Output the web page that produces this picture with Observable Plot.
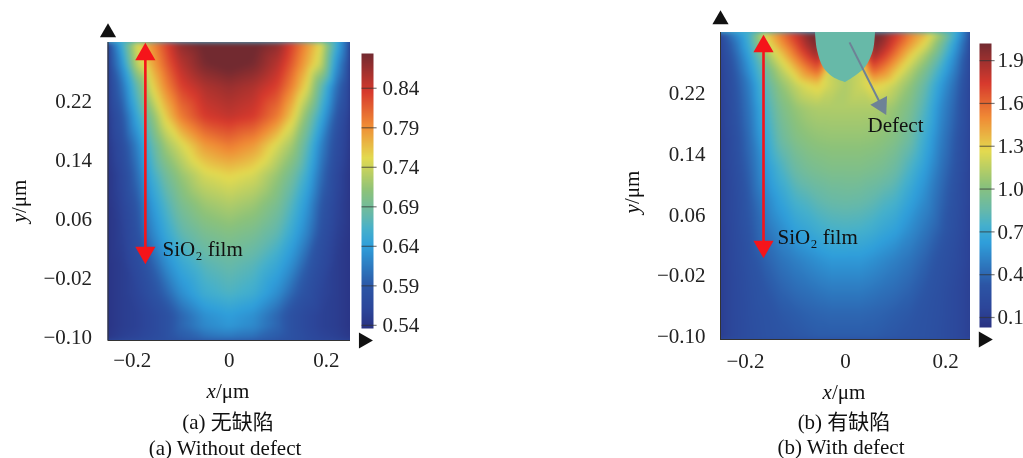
<!DOCTYPE html>
<html><head><meta charset="utf-8">
<script src="https://cdn.jsdelivr.net/npm/d3@7"></script>
<script src="https://cdn.jsdelivr.net/npm/@observablehq/plot@0.6"></script>
<style>
html,body{margin:0;padding:0;background:#fff}
#page{position:relative;width:1023px;height:458px;overflow:hidden;font-family:"Liberation Serif",serif;color:#111;filter:blur(.3px)}
#page svg{position:absolute;overflow:visible;background:transparent}
svg.heat image{filter:blur(2.5px)}
.t{position:absolute;white-space:nowrap;transform:translate(-50%,-50%);font-size:21px;line-height:1}
.r{transform:translate(-50%,-50%) rotate(-90deg)}
.cjk{font-family:"Liberation Serif","Noto Sans CJK SC",serif}
i{font-style:italic}
</style></head><body><div id="page"></div>
<script>
const xTicks=[-0.2,0,0.2];
const yTicks=[-0.10,-0.02,0.06,0.14,0.22];
const yDomain=[-0.104,0.30];
const xDomain=[-0.25,0.25];

// Panel (a) field
const xsA=[-.25,-.22,-.19,-.16,-.13,-.10,-.05,0,.05,.10,.13,.16,.19,.22,.25];
const ysA=[.30,.27,.24,.20,.16,.12,.08,.04,0,-.04,-.07,-.085,-.104];
const fieldA=[
[.58,.66,.75,.79,.83,.87,.89,.90,.89,.87,.83,.79,.75,.66,.58],
[.57,.635,.735,.775,.815,.85,.88,.89,.88,.85,.815,.775,.735,.635,.57],
[.56,.61,.68,.75,.795,.83,.855,.865,.855,.83,.795,.75,.68,.61,.56],
[.55,.59,.65,.705,.76,.80,.835,.845,.835,.80,.76,.705,.65,.59,.55],
[.545,.575,.62,.675,.72,.745,.785,.80,.785,.745,.72,.675,.62,.575,.545],
[.54,.565,.605,.655,.69,.715,.745,.755,.745,.715,.69,.655,.605,.565,.54],
[.54,.56,.59,.635,.668,.695,.718,.727,.718,.695,.668,.635,.59,.56,.54],
[.54,.555,.58,.62,.65,.675,.695,.703,.695,.675,.65,.62,.58,.555,.54],
[.54,.55,.57,.595,.628,.65,.673,.682,.673,.65,.628,.595,.57,.55,.54],
[.54,.55,.56,.58,.60,.628,.656,.666,.656,.628,.60,.58,.56,.55,.54],
[.54,.55,.555,.565,.58,.60,.63,.64,.63,.60,.58,.565,.555,.55,.54],
[.54,.55,.555,.565,.58,.60,.625,.635,.625,.60,.58,.565,.555,.55,.54],
[.545,.555,.56,.57,.58,.59,.60,.605,.60,.59,.58,.57,.56,.555,.545]];

// Panel (b) field
const xsB=[-.25,-.22,-.19,-.16,-.13,-.10,-.075,-.055,-.03,0,.03,.055,.075,.10,.13,.16,.19,.22,.25];
const ysB=[.30,.285,.27,.25,.23,.20,.16,.12,.08,.04,0,-.04,-.07,-.104];
const fieldB=[
[.25,.55,.80,1.3,1.55,1.78,1.98,2.02,.9,.8,.9,2.02,1.98,1.78,1.55,1.38,1.1,.72,.3],
[.2,.45,.75,1.2,1.45,1.68,1.9,2.0,.9,.8,.9,2.0,1.9,1.68,1.45,1.25,.95,.62,.25],
[.18,.4,.68,1.05,1.3,1.55,1.75,1.9,1.4,.9,1.4,1.9,1.75,1.55,1.3,1.1,.85,.55,.22],
[.15,.35,.6,.9,1.14,1.34,1.52,1.62,1.2,1.1,1.2,1.62,1.52,1.34,1.14,.95,.72,.48,.2],
[.14,.32,.52,.82,1.03,1.17,1.26,1.3,1.2,1.12,1.2,1.3,1.26,1.17,1.03,.85,.62,.42,.18],
[.13,.3,.48,.75,.95,1.05,1.1,1.12,1.12,1.12,1.12,1.12,1.1,1.05,.95,.78,.55,.38,.17],
[.12,.27,.44,.68,.88,.98,1.02,1.04,1.05,1.05,1.05,1.04,1.02,.98,.88,.7,.5,.34,.16],
[.12,.25,.4,.6,.76,.88,.93,.95,.97,.97,.97,.95,.93,.88,.76,.62,.45,.31,.15],
[.12,.23,.36,.52,.65,.76,.8,.84,.87,.88,.87,.84,.8,.76,.65,.54,.4,.28,.15],
[.12,.22,.33,.45,.55,.64,.68,.72,.75,.76,.75,.72,.68,.64,.55,.46,.36,.26,.14],
[.12,.21,.3,.38,.45,.5,.54,.57,.6,.6,.6,.57,.54,.5,.45,.38,.3,.23,.14],
[.12,.2,.27,.33,.38,.42,.44,.46,.48,.48,.48,.46,.44,.42,.38,.33,.27,.2,.13],
[.12,.2,.26,.3,.34,.36,.38,.39,.4,.4,.4,.39,.38,.36,.34,.3,.26,.2,.13],
[.12,.2,.25,.29,.31,.33,.34,.35,.35,.35,.35,.35,.34,.33,.31,.29,.25,.2,.13]];

// Defect outline
const defectY=[.30,.2763,.254,.2408,.2342];
const defectX1=[-.060,-.056,-.044,-.024,0];
const defectX2=[.060,.056,.040,.016,0];
const defectValue=.86;

// Colour bars
const barA={ticks:[.54,.59,.64,.69,.74,.79,.84],y:[.536,.884],fmt:".2f",pad:9};
const barB={ticks:[.1,.4,.7,1.0,1.3,1.6,1.9],y:[.03,2.02],fmt:".1f",pad:6};
const stopsFrac=[0,.07,.15,.3,.36,.41,.5,.62,.74,.86,1];
const stopsColor=["#2a3282","#2c469a","#2c55a5","#2f9fdb","#45b0cc","#64b8ac","#8cc27a","#e3da50","#f08a35","#d7392d","#722a30"];

const page=document.getElementById("page");
function colorOpts(bar){
  const [a,b]=bar.y;
  return {type:"linear",clamp:true,domain:stopsFrac.map(f=>a+(b-a)*f),range:stopsColor};
}
function points(xs,ys,f){return ys.flatMap((y,j)=>xs.map((x,i)=>({x,y,v:f[j][i]})));}

function panel(o){
  const ink="#222";
  const marks=[
    Plot.raster(points(o.xs,o.ys,o.f),{x:"x",y:"y",fill:"v",interpolate:"barycentric",pixelSize:1,clip:"frame",
      x1:xDomain[0]-.03,x2:xDomain[1]+.03,y1:yDomain[0]-.03,y2:yDomain[1]+.03}),
    ...(o.extra||[]),
    Plot.ruleX([xDomain[0]],{stroke:"#333",strokeWidth:1}),
    Plot.ruleY([yDomain[0]],{stroke:"#333",strokeWidth:1}),
    Plot.dot([[xDomain[0],o.axisTop]],{x:d=>d[0],y:d=>d[1],symbol:"triangle",r:6,fill:"#111",stroke:"none"}),
    Plot.dot([[o.axisRight,yDomain[0]]],{x:d=>d[0],y:d=>d[1],symbol:"triangle",r:6,rotate:90,fill:"#111",stroke:"none"}),
    Plot.link([0],{x1:()=>o.sio.x,x2:()=>o.sio.x,y1:()=>o.sio.y1,y2:()=>o.sio.y2,stroke:"#f5141a",strokeWidth:2.6}),
    Plot.dot([0],{x:()=>o.sio.x,y:()=>o.sio.y1,symbol:"triangle",r:7.5,fill:"#f5141a",stroke:"none"}),
    Plot.dot([0],{x:()=>o.sio.x,y:()=>o.sio.y2,symbol:"triangle",r:7.5,rotate:180,fill:"#f5141a",stroke:"none"}),
    Plot.text(["SiO\u2082 film"],{x:()=>o.sio.tx,y:()=>o.sio.ty,textAnchor:"start",fontSize:21,fill:"#111"}),
    Plot.axisX(xTicks,{tickSize:0,tickPadding:o.xPad,fontSize:21,label:null,color:ink,
      tickFormat:d=>d===0?"0":d3.format(".1f")(d)}),
    Plot.axisY(yTicks,{tickSize:0,tickPadding:o.yPad,fontSize:21,label:null,color:ink,tickFormat:d3.format(".2f")}),
    ...(o.over||[])
  ];
  const svg=Plot.plot({className:"heat",width:o.w,height:458,marginLeft:o.ml,marginRight:o.w-o.mr,marginTop:o.mt,marginBottom:458-o.mb,
    x:{domain:xDomain},y:{domain:yDomain},color:colorOpts(o.bar),style:{fontFamily:"Liberation Serif",background:"transparent"},marks});
  svg.style.left=o.left+"px";svg.style.top="0";
  page.append(svg);
}
function colorbar(bar,left,top,bottom){
  const w=75;
  const svg=Plot.plot({width:w,height:458,marginLeft:0,marginRight:w-12,marginTop:top,marginBottom:458-bottom,
    x:{domain:[0,1],axis:null},y:{domain:bar.y},color:colorOpts(bar),style:{fontFamily:"Liberation Serif",background:"transparent"},
    marks:[
      Plot.raster({fill:(x,y)=>y,x1:0,x2:1,y1:bar.y[0],y2:bar.y[1],pixelSize:1}),
      Plot.ruleY(bar.ticks,{x1:0.05,x2:1.3,stroke:"#333",strokeOpacity:.65,strokeWidth:1.2}),
      Plot.axisY(bar.ticks,{anchor:"right",tickSize:0,tickPadding:bar.pad,fontSize:21,label:null,color:"#222",tickFormat:d3.format(bar.fmt)})
    ]});
  svg.style.left=left+"px";svg.style.top="0";
  page.append(svg);
}
panel({xs:xsA,ys:ysA,f:fieldA,w:362,ml:107.5,mr:350,mt:42,mb:340,left:0,bar:barA,axisTop:.3135,axisRight:.277,xPad:12,yPad:16,
  sio:{x:-.173,y1:.284,y2:.0153,tx:-.1376,ty:.0194}});
colorbar(barA,361,53,328);

const defectRows=defectY.map((y,i)=>({y,x1:defectX1[i],x2:defectX2[i]}));
panel({xs:xsB,ys:ysB,f:fieldB,w:980,ml:720,mr:970,mt:32,mb:339,left:0,bar:barB,axisTop:.317,axisRight:.276,xPad:14,yPad:15,
  sio:{x:-.164,y1:.2816,y2:.0184,tx:-.136,ty:.03},
  extra:[Plot.areaX(defectRows,{y:"y",x1:"x1",x2:"x2",fill:()=>defectValue,curve:"catmull-rom"})],
  over:[
    Plot.link([0],{x1:()=>.008,y1:()=>.287,x2:()=>.0714,y2:()=>.2042,stroke:"#6e8296",strokeWidth:2}),
    Plot.dot([0],{x:()=>.0714,y:()=>.2042,symbol:"triangle",r:7,rotate:152.5,fill:"#6e8296",stroke:"none"}),
    Plot.text(["Defect"],{x:()=>.10,y:()=>.1776,fontSize:21,fill:"#111"})
  ]});
colorbar(barB,979,43,327);

const labels=[
 ["<i>x</i>/μm",228,391,0],["(a) 无缺陷",228,422,0],["(a) Without defect",225,448,0],
 ["<i>y</i>/μm",19,201,1],
 ["<i>x</i>/μm",844,392,0],["(b) 有缺陷",844,422,0],["(b) With defect",841,447,0],
 ["<i>y</i>/μm",632,192,1]];
for(const [h,x,y,r] of labels){
  const d=document.createElement("div");
  d.className="t cjk"+(r?" r":"");d.innerHTML=h;d.style.left=x+"px";d.style.top=y+"px";page.append(d);
}
</script></body></html>
